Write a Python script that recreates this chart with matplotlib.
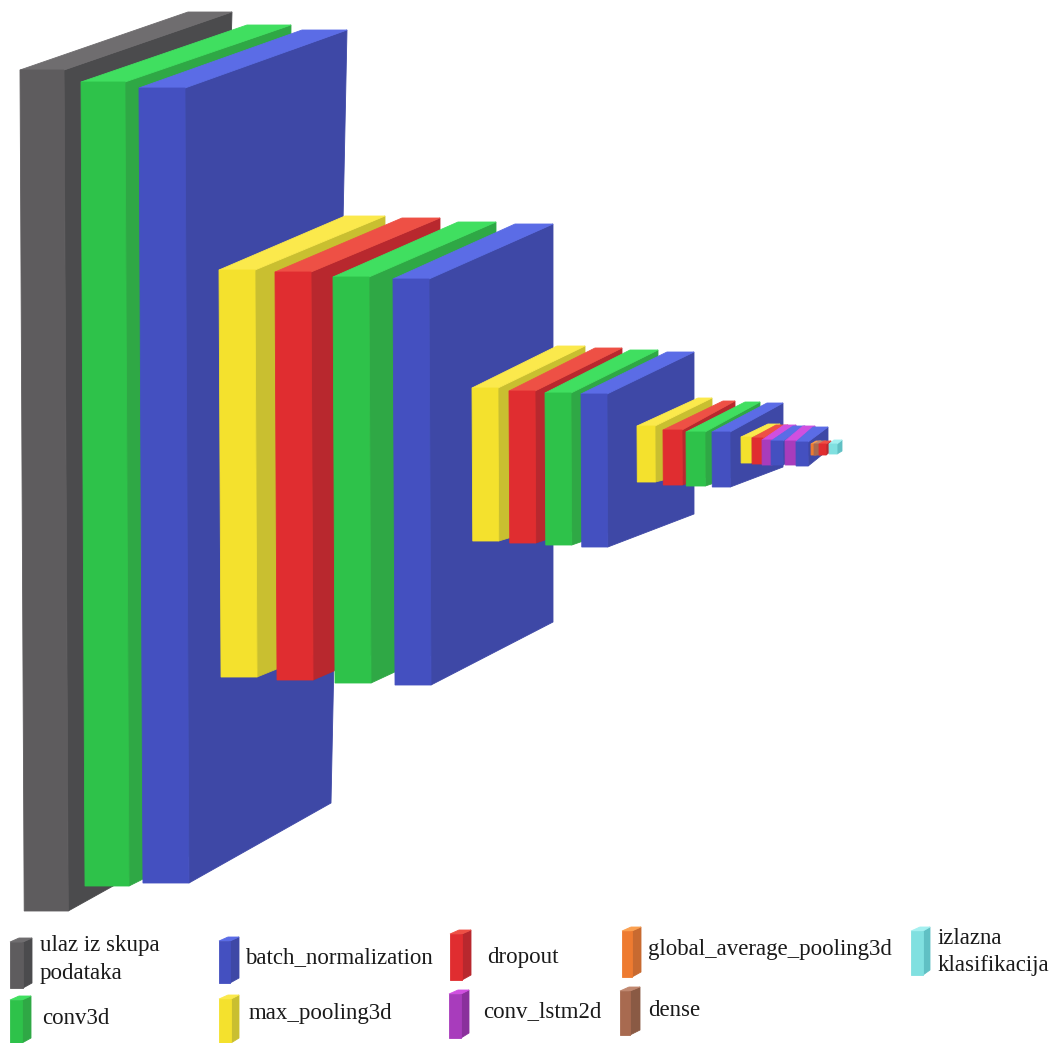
#==============================================================================================#
# 0. Packages
import matplotlib
matplotlib.use('Agg')
import matplotlib.pyplot as plt
#==============================================================================================#
# 1. Data (picture pixels, one entry per block, drawn back to front)
## 1.1 Colours of each layer type: front, top, side
layer_colors = {
    'input': ['#5e5c5e', '#6f6d6f', '#4b4b4d'],
    'conv3d': ['#2ec24a', '#40df60', '#2fa845'],
    'batch': ['#4450c0', '#5b6ce6', '#3e48a6'],
    'pool': ['#f4e12d', '#fbe94c', '#c9bf30'],
    'drop': ['#e02d30', '#ee5045', '#b8282e'],
    'lstm': ['#a83cbc', '#d050e0', '#8a309c'],
    'gap': ['#ee7b30', '#fba050', '#c86a30'],
    'dense': ['#a86a50', '#c08870', '#8a5a44'],
    'output': ['#80e0e0', '#a4f0f0', '#60c0c4'],
}
## 1.2 Blocks
block_type = ['input', 'conv3d', 'batch',
              'pool', 'drop', 'conv3d', 'batch',
              'pool', 'drop', 'conv3d', 'batch',
              'pool', 'drop', 'conv3d', 'batch',
              'pool', 'drop', 'lstm', 'batch', 'lstm', 'batch',
              'gap', 'dense', 'drop', 'output']
front_left = [20, 81, 139, 219, 275, 333, 393, 472, 509, 545, 581, 637, 663, 686, 712, 741, 752, 762, 771, 785, 796, 811, 814, 819, 829]
front_right = [64, 125, 185, 255, 311, 369, 429, 498, 535, 571, 607, 655, 682, 705, 730, 751, 763, 772, 783, 796, 808, 816, 821, 826, 837]
front_top = [70, 82, 88, 270, 272, 277, 279, 388, 391, 393, 394, 426, 430, 432, 432, 437, 438, 440, 441, 441, 442, 444, 444, 444, 444]
front_bottom = [911, 886, 883, 677, 680, 683, 685, 541, 543, 545, 547, 482, 485, 486, 487, 463, 464, 465, 465, 465, 466, 455, 455, 455, 454]
back_left = [188, 247, 302, 345, 402, 458, 515, 557, 595, 630, 667, 698, 723, 745, 767, 768, 776, 784, 793, 803, 813, 816, 819, 824, 834]
back_right = [232, 291, 347, 385, 440, 496, 553, 585, 622, 658, 694, 712, 735, 760, 783, 780, 788, 796, 805, 815, 828, 821, 826, 831, 842]
back_top = [12, 25, 30, 216, 218, 222, 224, 346, 348, 350, 352, 398, 401, 402, 403, 424, 425, 425, 426, 426, 427, 441, 441, 441, 440]
back_right_low = [210, 285, 331, 385, 440, 496, 553, 585, 622, 658, 694, 712, 735, 760, 783, 780, 788, 796, 805, 815, 828, 821, 826, 831, 842]
back_bottom = [832, 808, 803, 625, 625, 625, 622, 515, 515, 515, 514, 468, 468, 468, 467, 450, 450, 450, 450, 450, 450, 451, 451, 451, 451]
## 1.3 Legend swatches: left edge, front right edge, side right edge, top, bottom
legend_type = ['input', 'conv3d', 'batch', 'pool', 'drop', 'lstm', 'gap', 'dense', 'output']
legend_left = [10, 10, 219, 219, 450, 449, 622, 620, 911]
legend_mid = [23, 22, 230, 231, 462, 461, 632, 630, 923]
legend_right = [32, 31, 239, 239, 471, 469, 641, 640, 930]
legend_top = [942, 1000, 941, 999, 934, 994, 931, 991, 931]
legend_bottom = [988, 1043, 983, 1043, 980, 1038, 977, 1035, 975]
## 1.4 Legend text
legend_text = ['ulaz iz skupa', 'podataka', 'conv3d', 'batch_normalization', 'max_pooling3d',
               'dropout', 'conv_lstm2d', 'global_average_pooling3d', 'dense', 'izlazna', 'klasifikacija']
text_x = [40, 40, 42, 245, 249, 487, 483, 648, 648, 938, 938]
text_y = [945, 973, 1018, 958, 1013, 957, 1012, 950, 1011, 938, 966]
#==============================================================================================#
# 2. Figure
fig = plt.figure(figsize=(10.54, 10.43), dpi=100)
ax = fig.add_axes([0, 0, 1, 1])
ax.set_xlim(0, 1054)
ax.set_ylim(1043, 0)
ax.axis('off')

def draw_face(xs, ys, color):
    ax.fill(xs, ys, color=color, linewidth=0.6)

## 2.1 Layer blocks
for i, name in enumerate(block_type):
    front, top, side = layer_colors[name]
    lean = (front_bottom[i] - front_top[i]) * 0.005  ## the front narrows a little towards the top
    draw_face([back_right[i], back_right_low[i], front_right[i] + lean, front_right[i]],
              [back_top[i], back_bottom[i], front_bottom[i], front_top[i]], side)
    draw_face([front_left[i], back_left[i], back_right[i], front_right[i]],
              [front_top[i], back_top[i], back_top[i], front_top[i]], top)
    draw_face([front_left[i], front_right[i], front_right[i] + lean, front_left[i] + lean],
              [front_top[i], front_top[i], front_bottom[i], front_bottom[i]], front)

## 2.2 Legend swatches
for i, name in enumerate(legend_type):
    front, top, side = layer_colors[name]
    draw_face([legend_mid[i], legend_right[i], legend_right[i], legend_mid[i]],
              [legend_top[i], legend_top[i] - 4, legend_bottom[i] - 5, legend_bottom[i]], side)
    draw_face([legend_left[i], legend_left[i] + 9, legend_right[i], legend_mid[i]],
              [legend_top[i], legend_top[i] - 4, legend_top[i] - 4, legend_top[i]], top)
    draw_face([legend_left[i], legend_mid[i], legend_mid[i], legend_left[i]],
              [legend_top[i], legend_top[i], legend_bottom[i], legend_bottom[i]], front)

## 2.3 Legend text
for label, x, y in zip(legend_text, text_x, text_y):
    ax.text(x, y, label, fontsize=16.5, family='Liberation Serif', color='#1a1a1a', ha='left', va='center')

fig.savefig('out.png', dpi=100, facecolor='white')
